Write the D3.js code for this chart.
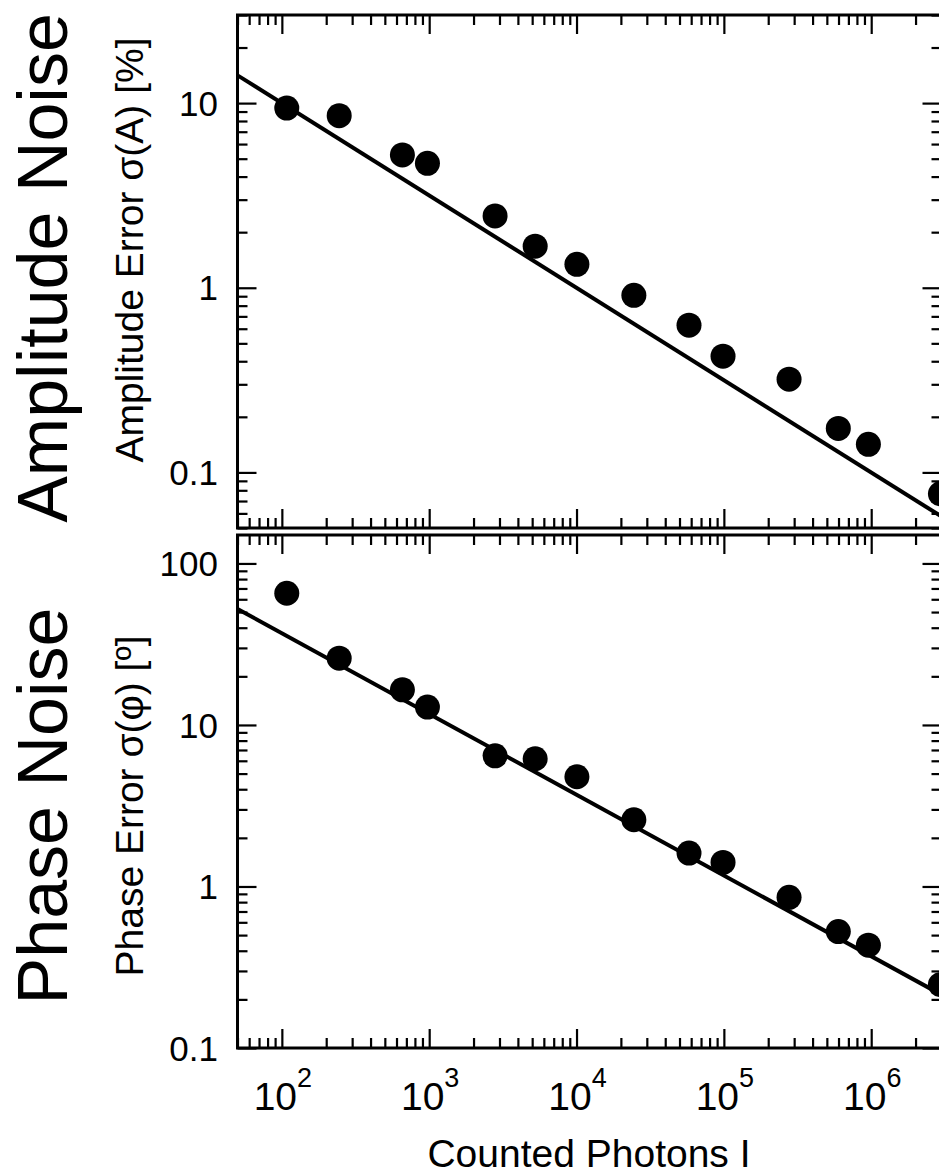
<!DOCTYPE html>
<html><head><meta charset="utf-8">
<script src="https://cdn.jsdelivr.net/npm/d3@7"></script>
<style>
html,body{margin:0;padding:0;background:#fff;}
svg{display:block;font-family:"Liberation Sans",Arial,Helvetica,sans-serif;}
</style></head>
<body><svg id="chart" width="939" height="1176"></svg>
<script>
// Photon counts shared by both panels
const photons = [108, 245, 658, 973, 2800, 5240, 10060, 24500, 58000, 98700, 277000, 598000, 957000, 2950000];
// Measured amplitude error, in percent
const amplitudeError = [9.4, 8.55, 5.24, 4.72, 2.45, 1.68, 1.34, 0.91, 0.627, 0.426, 0.32, 0.173, 0.142, 0.0766];
// Measured phase error, in degrees
const phaseError = [65.4, 25.9, 16.5, 12.9, 6.44, 6.18, 4.78, 2.59, 1.61, 1.41, 0.857, 0.526, 0.433, 0.247];
// Shot-noise reference lines (end points)
const amplitudeFit = [[50, 14.14], [3e6, 0.0577]];
const phaseFit = [[50, 52.3], [3e6, 0.2136]];
// Tick labels
const xTicks = [1e2, 1e3, 1e4, 1e5, 1e6];
const xTickExponents = ["2", "3", "4", "5", "6"];
const amplitudeTicks = [0.1, 1, 10];
const amplitudeTickLabels = ["0.1", "1", "10"];
const phaseTicks = [0.1, 1, 10, 100];
const phaseTickLabels = ["0.1", "1", "10", "100"];

const svg = d3.select("#chart");
const left = 237.5, right = 941.5;

const x = d3.scaleLog().domain([50, 3e6]).range([left, right]);

const panels = [
  {
    y: d3.scaleLog().domain([0.05, 30]).range([528, 15]),
    values: amplitudeError, fit: amplitudeFit,
    ticks: amplitudeTicks, tickLabels: amplitudeTickLabels,
    title: "Amplitude Noise", axisTitle: "Amplitude Error σ(A) [%]",
    titleY: 268, axisTitleY: 250, id: "amp"
  },
  {
    y: d3.scaleLog().domain([0.1, 150]).range([1048, 535]),
    values: phaseError, fit: phaseFit,
    ticks: phaseTicks, tickLabels: phaseTickLabels,
    title: "Phase Noise", axisTitle: "Phase Error σ(φ) [º]",
    titleY: 806, axisTitleY: 806, id: "pha"
  }
];

const isDecade = v => Math.abs(Math.log10(v) - Math.round(Math.log10(v))) < 1e-9;
const MAJOR = 19, MINOR = 10;

panels.forEach(p => {
  const y = p.y;
  const [yb, yt] = y.range();
  const g = svg.append("g");

  g.append("clipPath").attr("id", "clip-" + p.id)
    .append("rect").attr("x", left).attr("y", yt).attr("width", right - left).attr("height", yb - yt);

  const xt = x.ticks().filter(v => v >= 50 && v <= 3e6);
  const yTicksAll = y.ticks();

  const styleAxis = sel => {
    sel.select(".domain").remove();
    sel.selectAll(".tick line").attr("stroke", "#000").attr("stroke-width", 2.2);
    sel.selectAll("text").remove();
  };

  // bottom & top axes (ticks pointing inward)
  [[d3.axisBottom, yb], [d3.axisTop, yt]].forEach(([fn, pos]) => {
    g.append("g").attr("transform", `translate(0,${pos})`)
      .call(fn(x).tickValues(xt.filter(isDecade)).tickSize(-MAJOR).tickFormat(""))
      .call(styleAxis);
    g.append("g").attr("transform", `translate(0,${pos})`)
      .call(fn(x).tickValues(xt.filter(v => !isDecade(v))).tickSize(-MINOR).tickFormat(""))
      .call(styleAxis);
  });
  // left & right axes
  [[d3.axisLeft, left], [d3.axisRight, right]].forEach(([fn, pos]) => {
    g.append("g").attr("transform", `translate(${pos},0)`)
      .call(fn(y).tickValues(yTicksAll.filter(isDecade)).tickSize(-MAJOR).tickFormat(""))
      .call(styleAxis);
    g.append("g").attr("transform", `translate(${pos},0)`)
      .call(fn(y).tickValues(yTicksAll.filter(v => !isDecade(v))).tickSize(-MINOR).tickFormat(""))
      .call(styleAxis);
  });

  // frame
  g.append("rect").attr("x", left).attr("y", yt)
    .attr("width", right - left).attr("height", yb - yt)
    .attr("fill", "none").attr("stroke", "#000").attr("stroke-width", 3);

  // y tick labels
  g.selectAll(".ylab").data(p.ticks).join("text")
    .attr("x", 218).attr("y", d => y(d)).attr("dy", "0.36em")
    .attr("text-anchor", "end").attr("font-size", 35).text((d, i) => p.tickLabels[i]);

  // reference line
  g.append("path")
    .attr("clip-path", `url(#clip-${p.id})`)
    .attr("d", d3.line().x(d => x(d[0])).y(d => y(d[1]))(p.fit))
    .attr("fill", "none").attr("stroke", "#000").attr("stroke-width", 4);

  // data points
  g.selectAll(".dot").data(photons).join("circle")
    .attr("cx", d => x(d)).attr("cy", (d, i) => y(p.values[i]))
    .attr("r", 12.5).attr("fill", "#000");

  // titles
  svg.append("text").attr("transform", `translate(67,${p.titleY}) rotate(-90)`)
    .attr("text-anchor", "middle").attr("font-size", 70).text(p.title);
  svg.append("text").attr("transform", `translate(143,${p.axisTitleY}) rotate(-90)`)
    .attr("text-anchor", "middle").attr("font-size", 39).text(p.axisTitle);
});

// x tick labels (10 with superscript exponent)
const xl = svg.selectAll(".xlab").data(xTicks).join("text")
  .attr("x", d => x(d) + 1).attr("y", 1110)
  .attr("text-anchor", "middle").attr("font-size", 39);
xl.append("tspan").text("10");
xl.append("tspan").attr("dy", -23).attr("font-size", 27).text((d, i) => xTickExponents[i]);

svg.append("text").attr("x", 589).attr("y", 1167)
  .attr("text-anchor", "middle").attr("font-size", 39).text("Counted Photons I");
</script>
</body></html>
